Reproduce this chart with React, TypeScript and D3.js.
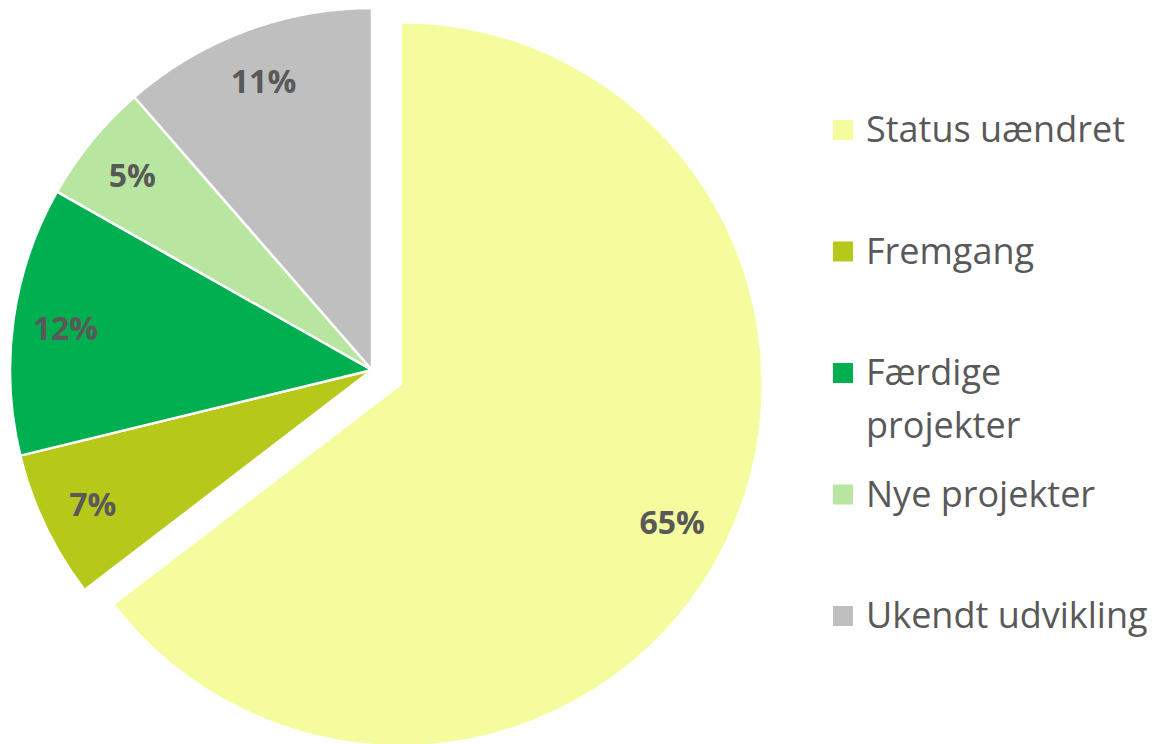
import React from "react";
import * as d3 from "d3";

const categories = ["Status uændret", "Fremgang", "Færdige projekter", "Nye projekter", "Ukendt udvikling"];
const values = [64.6, 6.6, 12.0, 5.4, 11.4];
const colors = ["#F4FC9D", "#B6C81A", "#00B050", "#B8E5A0", "#BFBFBF"];
const legendLines = [["Status uændret"], ["Fremgang"], ["Færdige", "projekter"], ["Nye projekter"], ["Ukendt udvikling"]];

const W = 1158;
const H = 744;
const cx = 372;
const cy = 370;
const R = 362;
const explodeOffset = 32;
const labelR = R * 0.855;

export default function App() {
  const total = d3.sum(values);
  const pie = d3.pie<number>().sort(null).value((d) => d);
  const arcs = pie(values);
  const arcGen = d3.arc<d3.PieArcDatum<number>>().innerRadius(0).outerRadius(R);
  const labelArc = d3.arc<d3.PieArcDatum<number>>().innerRadius(labelR).outerRadius(labelR);

  const legendY = d3.scalePoint<number>().domain(d3.range(categories.length)).range([130, 616]);

  return (
    <svg
      width={W}
      height={H}
      style={{ position: "absolute", left: 0, top: 0, background: "#fff" }}
      fontFamily="'Open Sans', sans-serif"
    >
      {arcs.map((a, i) => {
        const mid = (a.startAngle + a.endAngle) / 2;
        const off = i === 0 ? explodeOffset : 0;
        const dx = Math.sin(mid) * off;
        const dy = -Math.cos(mid) * off;
        const [lx, ly] = labelArc.centroid(a);
        return (
          <g key={categories[i]} transform={`translate(${cx + dx},${cy + dy})`}>
            <path d={arcGen(a) || ""} fill={colors[i]} stroke="#fff" strokeWidth={2.5} strokeLinejoin="round" />
            <text
              x={i === 0 ? lx - 6 : lx}
              y={ly}
              textAnchor="middle"
              dominantBaseline="central"
              fontWeight="bold"
              fontSize={32}
              fill="#595959"
            >
              {Math.round((values[i] / total) * 100)}%
            </text>
          </g>
        );
      })}
      {categories.map((c, i) => {
        const yc = legendY(i) as number;
        return (
          <g key={"lg" + c}>
            <rect x={833} y={yc - 10} width={20} height={20} fill={colors[i]} />
            <text x={866} y={yc + 12} fontSize={36} fill="#595959">
              {legendLines[i].map((ln, j) => (
                <tspan key={j} x={866} dy={j === 0 ? 0 : 53}>
                  {ln}
                </tspan>
              ))}
            </text>
          </g>
        );
      })}
    </svg>
  );
}
